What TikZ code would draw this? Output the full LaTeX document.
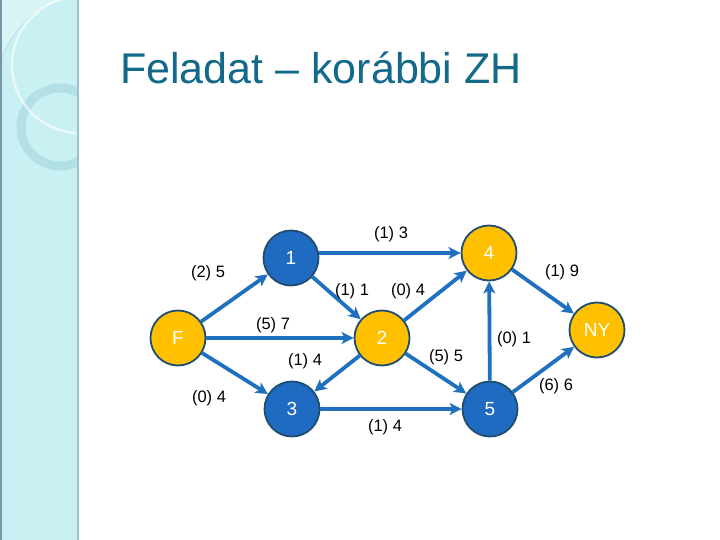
\documentclass[tikz,border=0pt]{standalone}
\usepackage{fontspec}
\setmainfont{Liberation Sans}
\usetikzlibrary{arrows.meta}
\definecolor{edgeblue}{HTML}{2070C0}
\definecolor{nodeblue}{HTML}{1F6BC2}
\definecolor{nodeorange}{HTML}{FFC000}
\definecolor{rimcol}{HTML}{1F4E70}
\definecolor{titlecol}{HTML}{13698A}
\definecolor{stripcol}{HTML}{C9F0F2}
\definecolor{stripedge}{HTML}{9CC4C8}
\definecolor{ringcol}{HTML}{B3E0E6}
\tikzset{
  x=1pt, y=-1pt,
  vnode/.style={circle, minimum size=55pt, inner sep=0pt, draw=rimcol, line width=1.8pt, text=white, font=\fontsize{19}{19}\selectfont},
  bluenode/.style={vnode, fill=nodeblue},
  orangenode/.style={vnode, fill=nodeorange},
  edge/.style={draw=edgeblue, line width=3.8pt, -{Stealth[length=12pt,width=12pt,inset=3pt]}},
  elabel/.style={font=\fontsize{16.5}{16.5}\selectfont, text=black, inner sep=0pt}
}
\begin{document}
\begin{tikzpicture}
\useasboundingbox (0,0) rectangle (720,540);
\fill[white] (0,0) rectangle (720,540);
% left strip
\begin{scope}
\clip (0,0) rectangle (78,540);
\fill[stripcol] (0,0) rectangle (78,540);
\fill[white, opacity=0.3] (0,62) .. controls (15,25) and (35,8) .. (63,0) -- (0,0) -- cycle;
\draw[stripedge!70, line width=0.5pt] (0,62) .. controls (15,25) and (35,8) .. (63,0);
\draw[ringcol, line width=9pt] (60,127) circle (39);
\draw[white, opacity=0.6, line width=2.5pt] (80,65) circle (68);
\end{scope}
\draw[stripedge, line width=2pt] (78,0) -- (78,540);
\draw[rimcol!60, line width=1.5pt] (0.75,0) -- (0.75,540);
% title
\node[anchor=base west, text=titlecol, font=\fontsize{43}{43}\selectfont, inner sep=0pt] (title) at (120,84) {Feladat – korábbi ZH};
% nodes
\node[orangenode] (F) at (178,338) {F};
\node[bluenode] (n1) at (291,258) {1};
\node[orangenode] (n4) at (489,253) {4};
\node[orangenode] (n2) at (382,338) {2};
\node[bluenode] (n3) at (292,409) {3};
\node[bluenode] (n5) at (490,409) {5};
\node[orangenode] (NY) at (597,330) {NY};
% edges
\draw[edge] (F) -- (n1);
\draw[edge] (n1.east |- n4) -- (n4);
\draw[edge] (n1) -- (n2);
\draw[edge] (F) -- (n2);
\draw[edge] (n2) -- (n4);
\draw[edge] (n2) -- (n3);
\draw[edge] (F) -- (n3);
\draw[edge] (n3) -- (n5);
\draw[edge] (n2) -- (n5);
\draw[edge] (n5) -- (n4);
\draw[edge] (n4) -- (NY);
\draw[edge] (n5) -- (NY);
% labels
\node[elabel] (l13) at (391,234) {(1) 3};
\node[elabel] (lF1) at (208,273) {(2) 5};
\node[elabel] (l12) at (352,291) {(1) 1};
\node[elabel] (l24) at (408,291) {(0) 4};
\node[elabel] (lF2) at (273,325) {(5) 7};
\node[elabel] (l23) at (305,361) {(1) 4};
\node[elabel] (lF3) at (209,398) {(0) 4};
\node[elabel] (l35) at (385,427) {(1) 4};
\node[elabel] (l25) at (446,357) {(5) 5};
\node[elabel] (l54) at (514,339) {(0) 1};
\node[elabel] (l4N) at (562,272) {(1) 9};
\node[elabel] (l5N) at (556,386) {(6) 6};
\end{tikzpicture}
\end{document}
